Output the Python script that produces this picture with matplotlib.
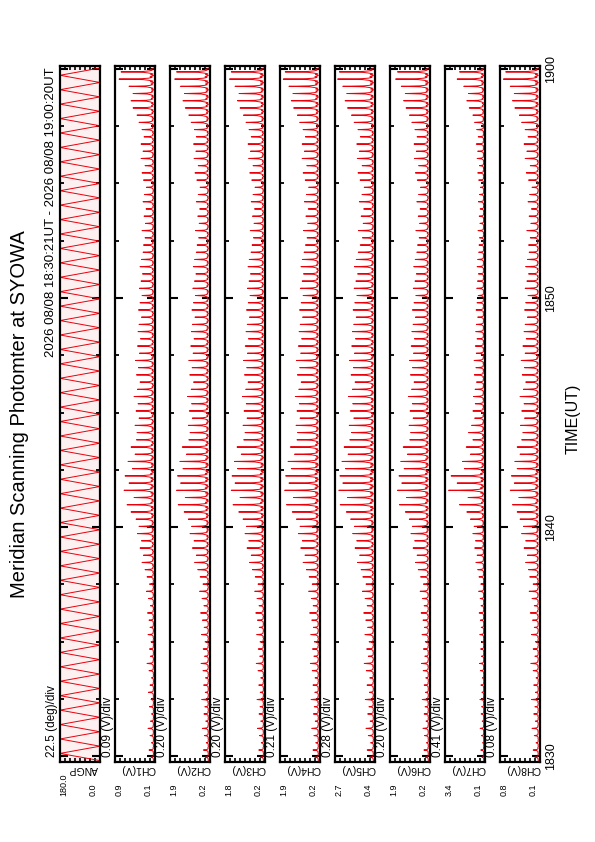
import numpy as np
import matplotlib
matplotlib.use('Agg')
import matplotlib.pyplot as plt
from matplotlib.ticker import FixedLocator

plt.rcParams['font.family'] = ['Liberation Sans', 'DejaVu Sans']

# ---------------- data ----------------
channels = ['ANGP', 'CH1(V)', 'CH2(V)', 'CH3(V)', 'CH4(V)', 'CH5(V)', 'CH6(V)', 'CH7(V)', 'CH8(V)']
vmin = [0.0, 0.1, 0.2, 0.2, 0.2, 0.4, 0.2, 0.1, 0.1]
vmax = [180.0, 0.9, 1.9, 1.8, 1.9, 2.7, 1.9, 3.4, 0.8]
vfmt = ['%.1f'] * 9
per_div = ['22.5 (deg)/div', '0.09 (V)/div', '0.20 (V)/div', '0.20 (V)/div', '0.21 (V)/div',
           '0.28 (V)/div', '0.20 (V)/div', '0.41 (V)/div', '0.08 (V)/div']
time_ticks = [0, 10, 20, 30]             # minutes after 18:30 UT
time_labels = ['1830', '1840', '1850', '1900']
title = 'Meridian Scanning Photomter at SYOWA'
header = '2026 08/08 18:30:21UT - 2026 08/08 19:00:20UT'

scan_start = -0.2      # minutes after 18:30
scan_period = 0.315    # minutes per half scan

angp_turns = [0.0, 180.0] * 48 + [0.0]

ch_base = [0.13, 0.27, 0.26, 0.27, 0.49, 0.27, 0.20, 0.13]

ch1_peaks = [0.18, 0.22, 0.17, 0.20, 0.24, 0.19, 0.17, 0.21, 0.18, 0.23,
             0.20, 0.17, 0.22, 0.26, 0.19, 0.21, 0.18, 0.24, 0.20, 0.22,
             0.25, 0.19, 0.23, 0.27, 0.21, 0.26,
             0.30, 0.36, 0.33, 0.40, 0.37, 0.45, 0.42, 0.48,
             0.58, 0.66, 0.52, 0.72, 0.62, 0.70, 0.55, 0.64, 0.50, 0.58, 0.47,
             0.46, 0.50, 0.42, 0.48, 0.44, 0.52, 0.45, 0.40, 0.47, 0.43, 0.49, 0.41, 0.45,
             0.39, 0.44, 0.42, 0.37, 0.43, 0.40, 0.36, 0.41, 0.38, 0.35, 0.40, 0.37, 0.34,
             0.33, 0.30, 0.36, 0.29, 0.32, 0.28, 0.34, 0.31, 0.27, 0.33, 0.36, 0.30, 0.38,
             0.34, 0.38, 0.32, 0.36, 0.42, 0.46, 0.54, 0.58, 0.54, 0.62, 0.82, 0.78]
ch2_peaks = [0.40, 0.48, 0.36, 0.44, 0.52, 0.38, 0.46, 0.42, 0.55, 0.40,
             0.47, 0.39, 0.50, 0.58, 0.43, 0.49, 0.41, 0.56, 0.45, 0.52,
             0.60, 0.46, 0.54, 0.64, 0.50, 0.62,
             0.72, 0.85, 0.78, 0.95, 0.88, 1.05, 0.98, 1.12,
             1.30, 1.55, 1.25, 1.62, 1.45, 1.58, 1.35, 1.48, 1.20, 1.38, 1.10,
             1.05, 1.12, 0.95, 1.08, 0.98, 1.15, 1.00, 0.90, 1.06, 0.96, 1.10, 0.92, 1.02,
             0.88, 0.99, 0.94, 0.84, 0.97, 0.90, 0.82, 0.93, 0.86, 0.80, 0.91, 0.85, 0.78,
             0.75, 0.68, 0.82, 0.66, 0.72, 0.64, 0.78, 0.70, 0.62, 0.76, 0.84, 0.70, 0.88,
             0.80, 0.90, 0.78, 0.86, 1.00, 1.10, 1.25, 1.35, 1.28, 1.45, 1.70, 1.62]
ch3_peaks = [0.38, 0.45, 0.35, 0.42, 0.50, 0.37, 0.44, 0.40, 0.52, 0.39,
             0.45, 0.37, 0.48, 0.55, 0.41, 0.47, 0.40, 0.53, 0.43, 0.50,
             0.57, 0.44, 0.52, 0.61, 0.48, 0.59,
             0.70, 0.82, 0.75, 0.92, 0.85, 1.00, 0.94, 1.08,
             1.25, 1.48, 1.20, 1.55, 1.40, 1.52, 1.30, 1.42, 1.15, 1.32, 1.05,
             1.00, 1.08, 0.92, 1.04, 0.95, 1.10, 0.97, 0.88, 1.02, 0.93, 1.06, 0.90, 0.99,
             0.86, 0.96, 0.91, 0.82, 0.94, 0.87, 0.80, 0.90, 0.84, 0.78, 0.88, 0.83, 0.76,
             0.72, 0.66, 0.79, 0.64, 0.70, 0.62, 0.75, 0.68, 0.60, 0.73, 0.81, 0.68, 0.85,
             0.78, 0.88, 0.75, 0.84, 0.96, 1.06, 1.20, 1.30, 1.24, 1.40, 1.62, 1.55]
ch4_peaks = [0.42, 0.50, 0.38, 0.46, 0.55, 0.40, 0.48, 0.44, 0.58, 0.42,
             0.50, 0.41, 0.53, 0.61, 0.46, 0.52, 0.44, 0.59, 0.48, 0.55,
             0.64, 0.49, 0.57, 0.68, 0.53, 0.66,
             0.78, 0.92, 0.84, 1.02, 0.95, 1.12, 1.05, 1.20,
             1.38, 1.62, 1.32, 1.70, 1.52, 1.66, 1.42, 1.56, 1.28, 1.46, 1.18,
             1.15, 1.22, 1.05, 1.18, 1.08, 1.25, 1.10, 1.00, 1.16, 1.06, 1.20, 1.02, 1.12,
             0.98, 1.09, 1.04, 0.94, 1.07, 1.00, 0.92, 1.03, 0.96, 0.90, 1.01, 0.95, 0.88,
             0.82, 0.75, 0.90, 0.72, 0.80, 0.70, 0.86, 0.77, 0.68, 0.83, 0.92, 0.76, 0.96,
             0.86, 0.96, 0.82, 0.92, 1.06, 1.16, 1.32, 1.42, 1.35, 1.52, 1.76, 1.68]
ch5_peaks = [0.70, 0.85, 0.65, 0.78, 0.92, 0.68, 0.82, 0.75, 0.96, 0.72,
             0.86, 0.70, 0.90, 1.02, 0.78, 0.88, 0.74, 0.98, 0.82, 0.93,
             1.05, 0.85, 0.97, 1.12, 0.92, 1.10,
             1.20, 1.40, 1.28, 1.55, 1.45, 1.68, 1.58, 1.80,
             2.05, 2.40, 1.98, 2.48, 2.25, 2.42, 2.10, 2.30, 1.95, 2.18, 1.85,
             1.75, 1.88, 1.62, 1.82, 1.68, 1.92, 1.70, 1.55, 1.78, 1.64, 1.86, 1.58, 1.74,
             1.52, 1.70, 1.62, 1.48, 1.66, 1.56, 1.44, 1.60, 1.50, 1.40, 1.58, 1.48, 1.36,
             1.25, 1.12, 1.35, 1.08, 1.20, 1.05, 1.30, 1.15, 1.02, 1.26, 1.38, 1.14, 1.42,
             1.30, 1.45, 1.24, 1.38, 1.60, 1.75, 1.98, 2.12, 2.02, 2.25, 2.55, 2.45]
ch6_peaks = [0.39, 0.46, 0.35, 0.43, 0.50, 0.37, 0.45, 0.41, 0.53, 0.39,
             0.45, 0.38, 0.49, 0.56, 0.42, 0.48, 0.40, 0.54, 0.44, 0.50,
             0.58, 0.45, 0.52, 0.62, 0.48, 0.60,
             0.70, 0.82, 0.75, 0.92, 0.85, 1.01, 0.95, 1.08,
             1.25, 1.50, 1.20, 1.58, 1.40, 1.52, 1.30, 1.44, 1.16, 1.34, 1.06,
             1.02, 1.09, 0.92, 1.05, 0.95, 1.12, 0.98, 0.88, 1.03, 0.94, 1.07, 0.90, 1.00,
             0.86, 0.97, 0.92, 0.82, 0.95, 0.88, 0.80, 0.91, 0.84, 0.78, 0.89, 0.83, 0.76,
             0.73, 0.66, 0.80, 0.64, 0.70, 0.62, 0.76, 0.68, 0.60, 0.74, 0.82, 0.68, 0.86,
             0.78, 0.88, 0.75, 0.84, 0.97, 1.07, 1.22, 1.32, 1.25, 1.42, 1.66, 1.58]
ch7_peaks = [0.35, 0.45, 0.30, 0.40, 0.50, 0.33, 0.42, 0.38, 0.52, 0.36,
             0.44, 0.32, 0.47, 0.55, 0.39, 0.46, 0.34, 0.53, 0.41, 0.48,
             0.58, 0.43, 0.50, 0.62, 0.45, 0.60,
             0.70, 0.85, 0.75, 0.95, 0.88, 1.10, 1.00, 1.30,
             1.60, 2.20, 1.50, 3.10, 2.40, 2.90, 1.80, 1.95, 1.30, 1.65, 1.10,
             1.45, 1.20, 0.95, 1.10, 0.90, 1.05, 0.92, 0.80, 0.98, 0.85, 1.00, 0.82, 0.90,
             0.76, 0.86, 0.80, 0.70, 0.84, 0.76, 0.66, 0.78, 0.72, 0.64, 0.75, 0.70, 0.62,
             0.60, 0.55, 0.68, 0.52, 0.58, 0.50, 0.64, 0.56, 0.48, 0.62, 0.70, 0.55, 0.75,
             0.70, 0.82, 0.66, 0.78, 0.95, 1.10, 1.40, 1.60, 1.45, 1.85, 2.40, 2.20]
ch8_peaks = [0.19, 0.22, 0.17, 0.20, 0.24, 0.18, 0.21, 0.19, 0.25, 0.18,
             0.21, 0.17, 0.22, 0.26, 0.19, 0.22, 0.18, 0.25, 0.20, 0.23,
             0.27, 0.20, 0.24, 0.29, 0.22, 0.28,
             0.30, 0.35, 0.32, 0.38, 0.35, 0.42, 0.39, 0.45,
             0.50, 0.58, 0.47, 0.62, 0.55, 0.60, 0.50, 0.54, 0.45, 0.50, 0.42,
             0.40, 0.44, 0.37, 0.42, 0.38, 0.45, 0.39, 0.35, 0.41, 0.37, 0.43, 0.36, 0.40,
             0.34, 0.38, 0.36, 0.32, 0.37, 0.35, 0.31, 0.36, 0.33, 0.30, 0.35, 0.32, 0.29,
             0.30, 0.27, 0.33, 0.26, 0.29, 0.25, 0.31, 0.28, 0.24, 0.30, 0.34, 0.27, 0.36,
             0.33, 0.38, 0.31, 0.36, 0.42, 0.46, 0.54, 0.58, 0.55, 0.62, 0.74, 0.70]
ch_peaks = [ch1_peaks, ch2_peaks, ch3_peaks, ch4_peaks, ch5_peaks, ch6_peaks, ch7_peaks, ch8_peaks]

# ---------------- layout ----------------
W, H = 595, 842
fig = plt.figure(figsize=(W / 100, H / 100), dpi=100)
px = 0.72  # points per pixel at 100 dpi

panel_left_px = [60, 115, 170, 225, 280, 335, 390, 445, 500]
panel_w_px = 40
top_px, bot_px = 66, 762
t_lo, t_hi = -0.26, 30.13

# response profile within one half scan (fraction of the scan, fraction of the peak height)
shape_pos = [0.0, 0.1, 0.2, 0.3, 0.4, 0.47, 0.53, 0.6, 0.7, 0.8, 0.9]
shape_amp = [0.0, 0.09, 0.02, 0.13, 0.3, 1.0, 0.33, 0.14, 0.04, 0.1, 0.02]

red = '#e8000b'
axes = []
for i, name in enumerate(channels):
    l = panel_left_px[i] / W
    b = 1 - bot_px / H
    ax = fig.add_axes([l, b, panel_w_px / W, (bot_px - top_px) / H])
    axes.append(ax)
    if i == 0:
        t = scan_start + scan_period * np.arange(len(angp_turns))
        ax.set_facecolor('#fdf0f0')
        ax.plot(angp_turns, t, color=red, lw=0.7)
    else:
        base = ch_base[i - 1]
        ts, vs = [], []
        for k, p in enumerate(ch_peaks[i - 1]):
            t0 = scan_start + k * scan_period
            for sp, sa in zip(shape_pos, shape_amp):
                ts.append(t0 + sp * scan_period)
                vs.append(base + sa * (p - base))
        ts.append(scan_start + len(ch_peaks[i - 1]) * scan_period)
        vs.append(base)
        ax.plot(vs, ts, color=red, lw=0.7)
    ax.set_xlim(vmax[i], vmin[i])
    ax.set_ylim(t_lo, t_hi)
    for s in ax.spines.values():
        s.set_linewidth(1.6)
    # time ticks
    ax.yaxis.set_major_locator(FixedLocator(time_ticks))
    ax.yaxis.set_minor_locator(FixedLocator([x * 2.5 for x in range(13) if x % 4 != 0]))
    ax.tick_params(axis='y', which='major', direction='in', left=True, right=True,
                   length=6, width=1.5, labelleft=False, labelright=False)
    ax.tick_params(axis='y', which='minor', direction='in', left=True, right=True,
                   length=3, width=1.3)
    # value ticks (8 divisions)
    ax.xaxis.set_major_locator(FixedLocator(list(np.linspace(vmin[i], vmax[i], 9))))
    ax.tick_params(axis='x', which='major', direction='in', top=True, bottom=True,
                   length=3, width=1.2, labelbottom=False, labeltop=False)
    # labels below
    ax.annotate(name, xy=(0.5, 0), xycoords='axes fraction', xytext=(3 * px, -2 * px),
                textcoords='offset points', ha='center', va='top', rotation=180, fontsize=7.5)
    ax.annotate(vfmt[i] % vmax[i], xy=(0, 0), xycoords='axes fraction', xytext=(4 * px, -34 * px),
                textcoords='offset points', ha='center', va='bottom', rotation=90, fontsize=6.5)
    ax.annotate(vfmt[i] % vmin[i], xy=(1, 0), xycoords='axes fraction', xytext=(-7 * px, -34 * px),
                textcoords='offset points', ha='center', va='bottom', rotation=90, fontsize=6.5)
    ax.annotate(per_div[i], xy=(0, 0), xycoords='axes fraction', xytext=(-7.5 * px, 5 * px),
                textcoords='offset points', ha='center', va='bottom', rotation=90, fontsize=8.5)

# time labels on the right of the last panel
axl = axes[-1]
axl.set_yticks(time_ticks)
axl.set_yticklabels(time_labels)
axl.tick_params(axis='y', which='major', labelright=True, labelsize=9, pad=4)
for lab in axl.get_yticklabels():
    lab.set_rotation(90)
    lab.set_va('center')

fig.text(20 / W, 1 - 414 / H, title, rotation=90, ha='center', va='center', fontsize=14.5)
fig.text(51 / W, 1 - 67 / H, header, rotation=90, ha='center', va='top', fontsize=9.5)
fig.text(573 / W, 1 - 419 / H, 'TIME(UT)', rotation=90, ha='center', va='center', fontsize=11.5)

fig.savefig('out.png', dpi=100)
